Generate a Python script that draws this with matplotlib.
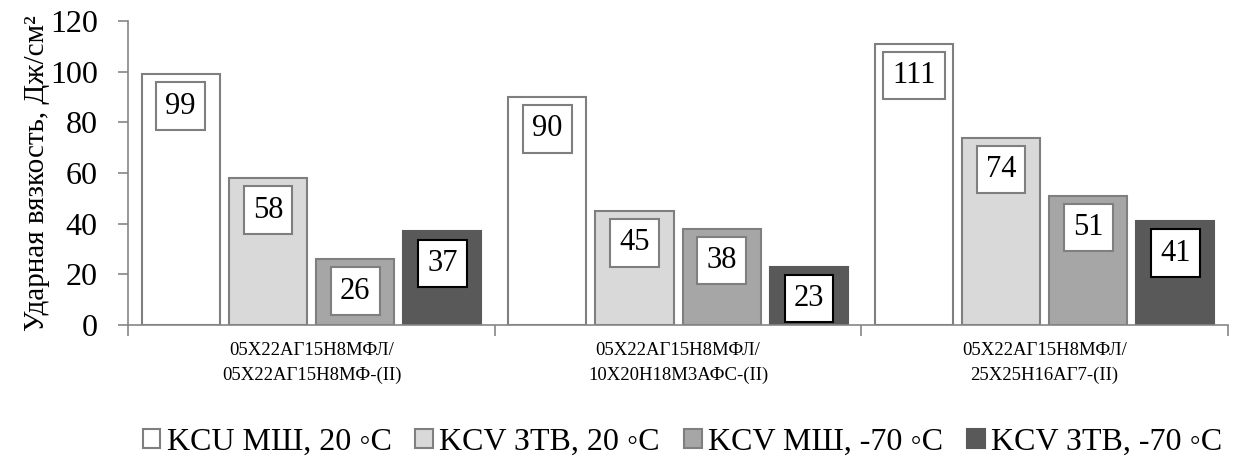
import matplotlib.pyplot as plt
import numpy as np

# ---- data ----
categories = [
    "05Х22АГ15Н8МФЛ/\n05Х22АГ15Н8МФ-(II)",
    "05Х22АГ15Н8МФЛ/\n10Х20Н18М3АФС-(II)",
    "05Х22АГ15Н8МФЛ/\n25Х25Н16АГ7-(II)",
]
series_names = [
    "KCU МШ, 20 ◦C",
    "KCV ЗТВ, 20 ◦C",
    "KCV МШ, -70 ◦C",
    "KCV ЗТВ, -70 ◦C",
]
kcu_ms_20 = [99, 90, 111]
kcv_ztv_20 = [58, 45, 74]
kcv_ms_m70 = [26, 38, 51]
kcv_ztv_m70 = [37, 23, 41]

values = [kcu_ms_20, kcv_ztv_20, kcv_ms_m70, kcv_ztv_m70]
colors = ["#FFFFFF", "#D9D9D9", "#A6A6A6", "#595959"]
edges = ["#7F7F7F", "#7F7F7F", "#7F7F7F", "#595959"]
label_edges = ["#7F7F7F", "#7F7F7F", "#7F7F7F", "#000000"]

plt.rcParams["font.family"] = "serif"
plt.rcParams["font.serif"] = ["Liberation Serif", "DejaVu Serif"]

fig = plt.figure(figsize=(12.34, 4.67), dpi=100)
ax = fig.add_axes([0.104, 0.304, 0.891, 0.651])

x = np.arange(len(categories))
width = 0.213
step = 0.238

for i, vals in enumerate(values):
    pos = x + (i - 1.5) * step
    bars = ax.bar(
        pos, vals, width,
        color=colors[i], edgecolor=edges[i], linewidth=1.5,
        label=series_names[i], zorder=2
    )
    for b, v in zip(bars, vals):
        ax.annotate(
            str(v),
            (b.get_x() + b.get_width() / 2, v),
            xytext=(0, -23), textcoords="offset points",
            ha="center", va="center", fontsize=22,
            bbox=dict(boxstyle="square,pad=0.3", fc="white",
                      ec=label_edges[i], lw=1.5),
            zorder=3
        )

ax.set_ylim(0, 120)
ax.set_xlim(-0.5, 2.5)
ax.set_yticks(range(0, 121, 20))
ax.tick_params(axis="y", labelsize=23, direction="out", length=7,
               color="#868686", width=1.2, pad=15)

ax.set_xticks(x)
ax.set_xticklabels(categories, fontsize=13.5, linespacing=1.6)
ax.tick_params(axis="x", length=0, pad=12)
ax.set_xticks([-0.5, 0.5, 1.5, 2.5], minor=True)
ax.tick_params(axis="x", which="minor", direction="out", length=8,
               color="#868686", width=1.2)

for s in ["top", "right"]:
    ax.spines[s].set_visible(False)
for s in ["left", "bottom"]:
    ax.spines[s].set_color("#868686")
    ax.spines[s].set_linewidth(1.2)

ax.set_ylabel("Ударная вязкость, Дж/см²", fontsize=21, labelpad=0)

fig.legend(
    loc="center", bbox_to_anchor=(0.553, 0.053), ncol=4,
    fontsize=23, frameon=False, handlelength=0.55, handleheight=0.55,
    handletextpad=0.2, columnspacing=0.75
)

fig.savefig("out.png", dpi=100)
